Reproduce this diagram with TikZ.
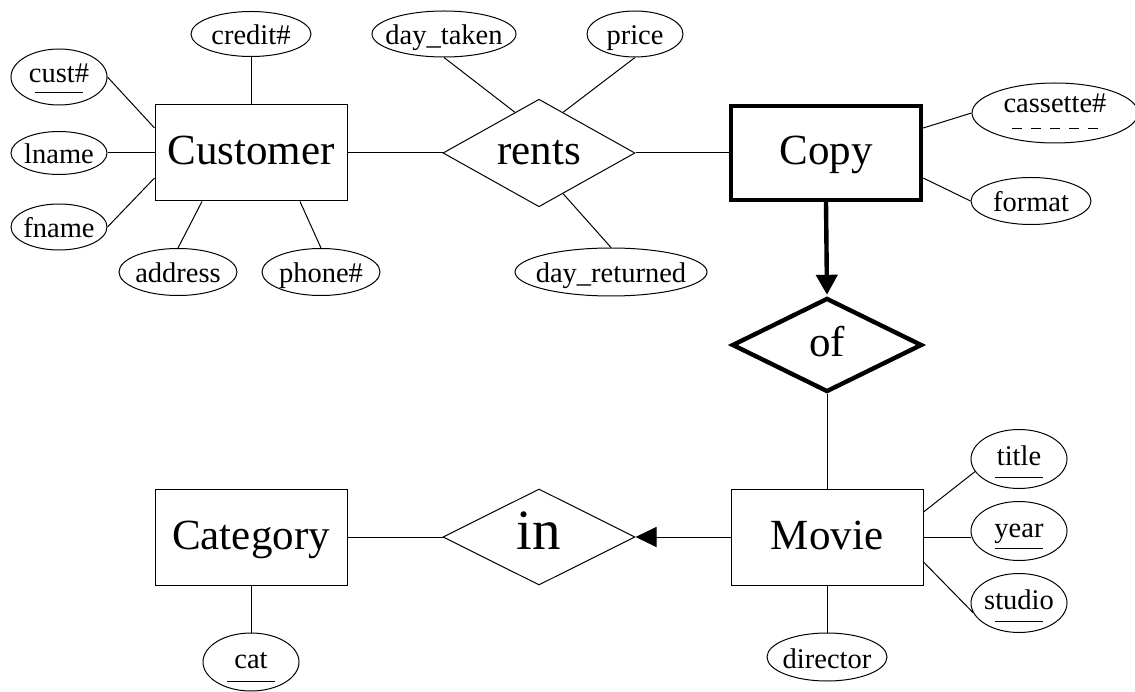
\documentclass[tikz,border=0pt]{standalone}
\usepackage{fontspec}
\setmainfont{Liberation Serif}
\usetikzlibrary{shapes.geometric,arrows.meta,calc}

\newcommand\bigfont{\fontsize{43}{50}\selectfont}
\newcommand\hugefont{\fontsize{57}{64}\selectfont}
\newcommand\attrfont{\fontsize{28.5}{32}\selectfont}
% zero-width text so the ellipse size comes from the minimum sizes only
\newcommand\fixw[1]{\makebox[0pt]{#1}}

\begin{document}
\begin{tikzpicture}[x=1pt,y=-1pt,
  entity/.style={rectangle, draw, line width=1pt, minimum width=192pt,
    minimum height=96pt, inner sep=0pt, font=\bigfont, text height=24pt, text depth=0pt},
  relation/.style={diamond, draw, line width=1pt, minimum width=192pt,
    minimum height=96pt, inner sep=0pt, font=\bigfont, text height=24pt, text depth=0pt},
  weak/.style={line width=4.4pt},
  attr/.style={ellipse, draw, line width=1pt, inner sep=0pt, font=\attrfont,
    text height=22pt, text depth=0pt},
  keyattr/.style={attr, text height=12pt},
  link/.style={line width=1pt},
  keyline/.style={line width=1pt},
  partkeyline/.style={line width=1pt, dash pattern=on 10pt off 9pt},
]
\useasboundingbox (0,0) rectangle (1135,692);
\fill[white] (0,0) rectangle (1135,692);

% entities and relationships
\node[entity] (customer) at (251,153) {Customer};
\node[entity, weak, minimum width=190pt, minimum height=94pt] (copy) at (826,153) {Copy};
\node[entity] (category) at (251,537) {Category};
\node[entity] (movie) at (827,537) {Movie};
\node[relation] (rents) at (539,153) {rents};
\node[relation, weak, minimum width=190pt, minimum height=94pt] (ofrel) at (827,345) {of};
\node[relation, font=\hugefont] (inrel) at (539,537) {in};

% attributes
\node[keyattr, minimum width=96pt, minimum height=56pt] (custno) at (59,77) {\fixw{cust\#}};
\node[attr, minimum width=96pt, minimum height=43pt] (lname) at (59,153) {\fixw{lname}};
\node[attr, minimum width=96pt, minimum height=46pt] (fname) at (59,227) {\fixw{fname}};
\node[attr, minimum width=120pt, minimum height=45pt] (credit) at (251,34) {\fixw{credit\#}};
\node[attr, minimum width=118pt, minimum height=47pt] (address) at (178,272) {\fixw{address}};
\node[attr, minimum width=118pt, minimum height=47pt] (phone) at (321,272) {\fixw{phone\#}};
\node[attr, minimum width=144pt, minimum height=46pt] (daytaken) at (444,34) {\fixw{day\_taken}};
\node[attr, minimum width=96pt, minimum height=46pt] (price) at (635,34) {\fixw{price}};
\node[attr, minimum width=192pt, minimum height=48pt] (dayret) at (611,272) {\fixw{day\_returned}};
\node[attr, text height=0pt, minimum width=166pt, minimum height=60pt] (cassette) at (1055,113) {\fixw{cassette\#}};
\node[attr, minimum width=120pt, minimum height=47pt] (format) at (1031,201) {\fixw{format}};
\node[keyattr, minimum width=96pt, minimum height=59pt] (title) at (1019,459) {\fixw{title}};
\node[keyattr, minimum width=96pt, minimum height=59pt] (year) at (1019,531) {\fixw{year}};
\node[keyattr, minimum width=96pt, minimum height=59pt] (studio) at (1019,603) {\fixw{studio}};
\node[attr, minimum width=120pt, minimum height=48pt] (director) at (827,657) {\fixw{director}};
\node[keyattr, minimum width=96pt, minimum height=58pt] (cat) at (251,662) {\fixw{cat}};

% key underlines
\draw[keyline] ([yshift=-16pt]custno.center) ++(-24pt,0) -- ++(48pt,0);
\draw[keyline] ([yshift=-18pt]title.center) ++(-24pt,0) -- ++(48pt,0);
\draw[keyline] ([yshift=-17pt]year.center) ++(-24pt,0) -- ++(48pt,0);
\draw[keyline] ([yshift=-18pt]studio.center) ++(-24pt,0) -- ++(48pt,0);
\draw[keyline] ([yshift=-19pt]cat.center) ++(-24pt,0) -- ++(48pt,0);
\draw[partkeyline] ([yshift=-16pt]cassette.center) ++(-43pt,0) -- ++(86pt,0);

% Customer attributes
\draw[link] (custno.east) -- ([yshift=25pt]customer.west);
\draw[link] (lname.east) -- (lname.east -| customer.west);
\draw[link] (fname.east) -- ([yshift=-25pt]customer.west);
\draw[link] (credit.south) -- (credit.south |- customer.north);
\draw[link] (address.north) -- ([xshift=-49pt]customer.south);
\draw[link] (phone.north) -- ([xshift=49pt]customer.south);

% rents
\draw[link] (customer.east) -- (rents.west);
\draw[link] (rents.east) -- (copy.west);
\draw[link] (daytaken.south) -- ($(rents.west)!0.75!(rents.north)$);
\draw[link] (price.south) -- ($(rents.north)!0.25!(rents.east)$);
\draw[link] ($(rents.south)!0.25!(rents.east)$) -- (dayret.north);

% Copy
\draw[link] ([yshift=25pt]copy.east) -- (cassette.west);
\draw[link] ([yshift=-25pt]copy.east) -- (format.west);
\draw[line width=4.4pt, -{Triangle[width=21pt,length=20pt]}, shorten >=1pt] (copy.south) -- (ofrel.north);
\draw[link] (ofrel.south) -- (movie.north);

% Movie
\draw[link] ([yshift=25pt]movie.east) -- (title.196);
\draw[link] (movie.east) -- (movie.east -| year.west);
\draw[link] ([yshift=-25pt]movie.east) -- (studio.192);
\draw[link] (movie.south) -- (director.north);
\draw[link, -{Triangle[width=20pt,length=21pt]}] (movie.west) -- (inrel.east);

% Category
\draw[link] (category.east) -- (inrel.west);
\draw[link] (category.south) -- (cat.north);
\end{tikzpicture}
\end{document}
